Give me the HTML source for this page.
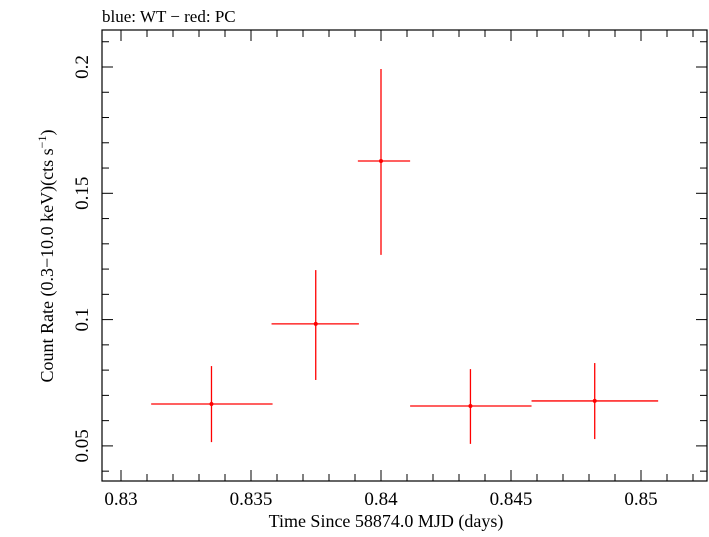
<!DOCTYPE html>
<html><head><meta charset="utf-8"><style>
body{margin:0;background:#fff;}
svg text{font-family:"Liberation Serif",serif;fill:#000;}
</style></head><body>
<svg id="chart" width="709" height="532" xmlns="http://www.w3.org/2000/svg">
<text x="102" y="22" font-size="17">blue: WT − red: PC</text>
<rect x="102" y="30" width="605" height="451" fill="none" stroke="#000" stroke-width="1.2"/>
<g id="axes"></g>
<g id="marks"></g>
<text x="386" y="527" font-size="18" text-anchor="middle">Time Since 58874.0 MJD (days)</text>
<text transform="translate(53,256) rotate(-90)" font-size="18" text-anchor="middle">Count Rate (0.3−10.0 keV)(cts s<tspan font-size="12" dy="-7">−1</tspan><tspan dy="7">)</tspan></text>
</svg>
<script>
const xCenters=[0.83348,0.83749,0.84,0.84344,0.84822];
const xLo=[0.83116,0.83579,0.83911,0.84112,0.84579];
const xHi=[0.83583,0.83915,0.84112,0.84579,0.85066];
const yVals=[0.0666,0.0983,0.1628,0.0658,0.0678];
const yLo=[0.0515,0.0761,0.1256,0.0508,0.0527];
const yHi=[0.0816,0.1196,0.1992,0.0804,0.0828];
const xTicks=["0.83","0.835","0.84","0.845","0.85"];
const yTicks=["0.05","0.1","0.15","0.2"];
const X=v=>121+(v-0.83)*26000;
const Y=v=>67+(0.2-v)*2526;
const NS="http://www.w3.org/2000/svg";
const axes=document.getElementById('axes'),marks=document.getElementById('marks');
function line(p,x1,y1,x2,y2,c,w,name){const l=document.createElementNS(NS,'line');
l.setAttribute('x1',x1);l.setAttribute('y1',y1);l.setAttribute('x2',x2);l.setAttribute('y2',y2);
l.setAttribute('stroke',c);l.setAttribute('stroke-width',w);


p.appendChild(l);}
function text(p,x,y,s,anchor,rot,name){const t=document.createElementNS(NS,'text');
t.setAttribute('x',x);t.setAttribute('y',y);t.setAttribute('font-size','19');t.setAttribute('text-anchor',anchor);
if(rot)t.setAttribute('transform',`rotate(-90 ${x} ${y})`);t.textContent=s;


p.appendChild(t);}
for(let i=0;i<=26;i++){const v=0.829+i*0.001;const x=X(v);if(x<102||x>707)continue;
const maj=Math.abs(Math.round(v*1000)%5)===0;const L=maj?11:7;
line(axes,x,481,x,481-L,'#000',1,'x-tick');line(axes,x,30,x,30+L,'#000',1,'x-tick');}
xTicks.forEach(s=>text(axes,X(+s),505,s,'middle',false,'x-tick-label'));
for(let i=0;i<=25;i++){const v=0.04+i*0.01;const y=Y(v);if(y<30||y>481)continue;
const maj=Math.abs(Math.round(v*100)%5)===0;const L=maj?11:7;
line(axes,102,y,102+L,y,'#000',1,'y-tick');line(axes,707,y,707-L,y,'#000',1,'y-tick');}
yTicks.forEach(s=>text(axes,88,Y(+s),s,'middle',true,'y-tick-label'));
xCenters.forEach((c,i)=>{
line(marks,X(xLo[i]),Y(yVals[i]),X(xHi[i]),Y(yVals[i]),'#f00',1.3,'x-error-bar');
line(marks,X(c),Y(yLo[i]),X(c),Y(yHi[i]),'#f00',1.3,'y-error-bar');
const d=document.createElementNS(NS,'circle');d.setAttribute('cx',X(c));d.setAttribute('cy',Y(yVals[i]));d.setAttribute('r',2);d.setAttribute('fill','#f00');


marks.appendChild(d);});
</script>
</body></html>
